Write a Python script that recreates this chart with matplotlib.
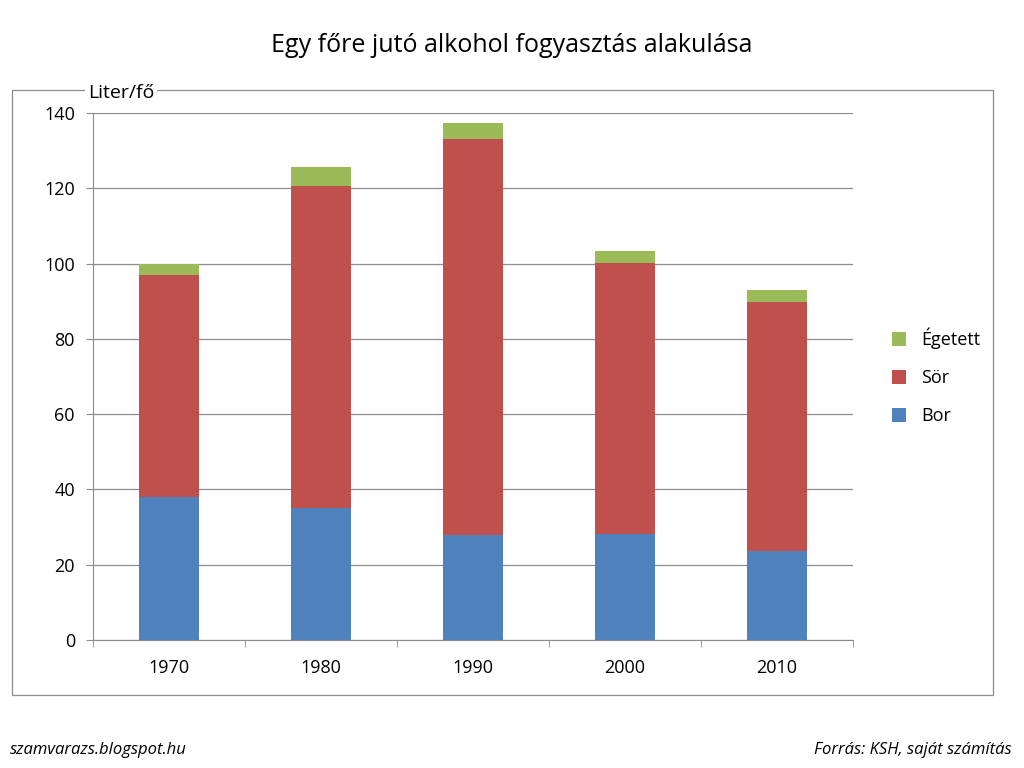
import matplotlib.pyplot as plt
from matplotlib.patches import Rectangle
import numpy as np

plt.rcParams['font.family'] = ['Open Sans', 'DejaVu Sans']

years = ['1970', '1980', '1990', '2000', '2010']
bor = [38, 35, 28, 28.2, 23.6]
sor = [59, 85.6, 105, 72, 66.2]
egetett = [3, 5, 4.3, 3.1, 3.2]

c_bor = '#4f81bd'
c_sor = '#c0504d'
c_eg = '#9bbb59'

fig = plt.figure(figsize=(10.24, 7.68), dpi=100)
fig.patches.append(Rectangle((12/1024, 73/768), 981/1024, 605/768, transform=fig.transFigure,
                             fill=False, edgecolor='#8c8c8c', linewidth=0.9))
ax = fig.add_axes([93/1024, 128/768, 760/1024, 527/768])

x = np.arange(len(years))
b1 = ax.bar(x, bor, 0.4, color=c_bor, label='Bor', zorder=3)
b2 = ax.bar(x, sor, 0.4, bottom=bor, color=c_sor, label='Sör', zorder=3)
b3 = ax.bar(x, egetett, 0.4, bottom=np.array(bor) + np.array(sor), color=c_eg, label='Égetett', zorder=3)

ax.set_xlim(-0.5, len(years) - 0.5)
ax.set_ylim(0, 140)
ax.set_yticks(range(0, 141, 20))
ax.yaxis.grid(True, color='#8c8c8c', linewidth=0.9, zorder=0)
ax.set_xticks(x)
ax.set_xticklabels(years, fontsize=13)
ax.set_xticks(np.arange(-0.5, len(years)), minor=True)
ax.tick_params(axis='x', which='major', length=0, pad=14)
ax.tick_params(axis='x', which='minor', length=5, color='#8c8c8c')
ax.tick_params(axis='y', labelsize=13, length=5, color='#8c8c8c', pad=8)
for s in ['top', 'right']:
    ax.spines[s].set_visible(False)
for s in ['left', 'bottom']:
    ax.spines[s].set_color('#8c8c8c')

ax.legend([b3, b2, b1], ['Égetett', 'Sör', 'Bor'], loc='center left', bbox_to_anchor=(1.03, 0.5),
          frameon=False, fontsize=13, handlelength=0.8, handleheight=0.8, labelspacing=1.1)

fig.text(88/1024, 1 - 93/768, 'Liter/fő', fontsize=14, va='center', ha='left',
         bbox=dict(facecolor='white', edgecolor='none', pad=2))
fig.text(0.5, 1 - 45/768, 'Egy főre jutó alkohol fogyasztás alakulása', fontsize=18, ha='center', va='center')
fig.text(10/1024, 1 - 750/768, 'szamvarazs.blogspot.hu', fontsize=12, style='italic', va='center')
fig.text(1012/1024, 1 - 750/768, 'Forrás: KSH, saját számítás', fontsize=12, style='italic', va='center', ha='right')

fig.savefig('out.png', dpi=100)
